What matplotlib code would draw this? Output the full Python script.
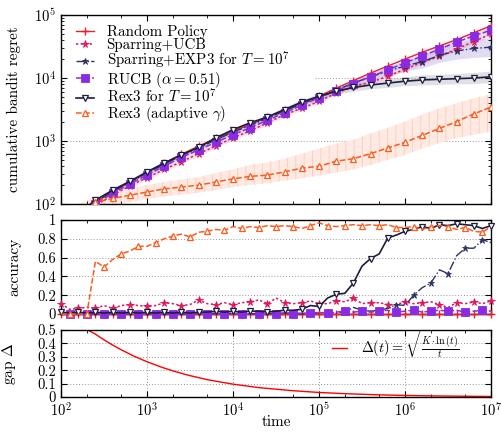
import numpy as np
import matplotlib
matplotlib.use("Agg")
import matplotlib.pyplot as plt
from matplotlib.ticker import LogLocator, NullFormatter

plt.rcParams['font.family'] = 'serif'
plt.rcParams['font.serif'] = ['cmr10', 'DejaVu Serif']
plt.rcParams['mathtext.fontset'] = 'cm'
plt.rcParams['axes.formatter.use_mathtext'] = True
plt.rcParams['font.size'] = 11
plt.rcParams['axes.unicode_minus'] = False
plt.rcParams['hatch.linewidth'] = 0.6

# ---------------- data ----------------
# regret panel: time grid (log10 t = 2.2 ... 7.0, step 0.2)
regret_time = [10 ** (2.2 + 0.2 * i) for i in range(25)]
regret_random = [66, 107, 155, 224, 316, 447, 617, 832, 1100, 1450, 1820, 2400, 3160,
                 3980, 5130, 6920, 9120, 12000, 15500, 20000, 25700, 32400, 40700, 52500, 67600]
regret_spar_ucb = [60, 95, 138, 195, 263, 355, 468, 631, 832, 1122, 1445, 1950, 2630,
                   3311, 4266, 5754, 7413, 8511, 10715, 13804, 17783, 22387, 28840, 38019, 50119]
regret_spar_exp3 = [68, 110, 158, 224, 309, 427, 589, 776, 1047, 1380, 1778, 2291, 3020,
                    3890, 5012, 6457, 8318, 10471, 12882, 15488, 18197, 22909, 26915, 29512, 30903]
regret_rucb = [63, 100, 148, 209, 288, 398, 550, 724, 955, 1259, 1622, 2138, 2818,
               3715, 4898, 6310, 8128, 10471, 13490, 17378, 22387, 28840, 37154, 46774, 57544]
regret_rex3 = [71, 115, 166, 229, 324, 447, 603, 794, 1122, 1514, 1950, 2399, 3162,
               4169, 5129, 6166, 7079, 7762, 8318, 8913, 9333, 9550, 9772, 10000, 10471]
regret_rex3_adapt = [79, 107, 123, 138, 155, 174, 186, 200, 224, 251, 275, 288, 324,
                     372, 398, 479, 525, 631, 776, 955, 1230, 1585, 2042, 2692, 3467]
rex3_adapt_hi = [100, 132, 155, 178, 200, 224, 245, 269, 309, 355, 417, 457, 525,
                 631, 759, 912, 1047, 1318, 1622, 2042, 2630, 3311, 3981, 4786, 5495]
rex3_adapt_lo = [63, 89, 98, 107, 120, 132, 141, 151, 166, 186, 200, 214, 234,
                 257, 282, 316, 355, 417, 501, 603, 759, 933, 1122, 1259, 1413]
# half-width of confidence bands (in decades)
spread_spar_ucb = [0.03] * 25
spread_spar_exp3 = [0.03] * 14 + [0.04, 0.05, 0.05, 0.06, 0.07, 0.08, 0.10, 0.11, 0.13, 0.14, 0.15]
spread_rucb = [0.04] * 15 + [0.04, 0.05, 0.05, 0.05, 0.05, 0.06, 0.06, 0.06, 0.06, 0.06]
spread_rex3 = [0.03] * 11 + [0.04, 0.04, 0.04, 0.05, 0.05, 0.06, 0.06, 0.07, 0.07, 0.08, 0.08, 0.08, 0.09, 0.09]

# accuracy panel: time grid (log10 t = 2.0 ... 7.0, step 0.1)
acc_time = [10 ** (2.0 + 0.1 * i) for i in range(51)]
acc_random = [0.0] * 51
acc_spar_ucb = [0.11, 0.05, 0.06, 0.07, 0.06, 0.09, 0.06, 0.09, 0.10, 0.09, 0.08, 0.09, 0.12,
                0.11, 0.09, 0.10, 0.15, 0.11, 0.10, 0.12, 0.10, 0.12, 0.13, 0.15, 0.11, 0.17,
                0.12, 0.11, 0.12, 0.14, 0.11, 0.11, 0.14, 0.13, 0.17, 0.11, 0.12, 0.12, 0.10,
                0.10, 0.13, 0.11, 0.12, 0.13, 0.10, 0.07, 0.12, 0.11, 0.13, 0.11, 0.14]
acc_spar_exp3 = [0.01, 0.0, 0.01, 0.0, 0.01, 0.0, 0.01, 0.0, 0.01, 0.01, 0.0, 0.01, 0.0,
                 0.01, 0.0, 0.01, 0.01, 0.0, 0.01, 0.0, 0.01, 0.01, 0.0, 0.01, 0.01, 0.0,
                 0.01, 0.01, 0.0, 0.01, 0.01, 0.02, 0.01, 0.02, 0.07, 0.04, 0.03, 0.04, 0.06,
                 0.10, 0.09, 0.20, 0.28, 0.33, 0.47, 0.43, 0.62, 0.70, 0.70, 0.79, 0.76]
acc_rucb = [0.0, 0.0, 0.0, 0.0, 0.0, 0.0, 0.0, 0.0, 0.0, 0.0, 0.0, 0.0, 0.0,
            0.0, 0.0, 0.0, 0.0, 0.0, 0.0, 0.0, 0.0, 0.0, 0.0, 0.0, 0.0, 0.005,
            0.01, 0.005, 0.01, 0.01, 0.015, 0.01, 0.02, 0.03, 0.02, 0.03, 0.02, 0.03, 0.04,
            0.02, 0.03, 0.04, 0.02, 0.03, 0.04, 0.03, 0.04, 0.02, 0.03, 0.04, 0.03]
acc_rex3 = [0.02, 0.01, 0.02, 0.01, 0.02, 0.01, 0.02, 0.01, 0.02, 0.01, 0.02, 0.01, 0.02,
            0.01, 0.02, 0.01, 0.02, 0.02, 0.03, 0.02, 0.03, 0.02, 0.03, 0.03, 0.02, 0.03,
            0.04, 0.04, 0.05, 0.09, 0.08, 0.17, 0.21, 0.22, 0.33, 0.51, 0.59, 0.64, 0.81,
            0.84, 0.88, 0.90, 0.93, 0.91, 0.95, 0.94, 0.96, 0.95, 0.94, 0.91, 0.94]
acc_rex3_adapt = [0.0, 0.0, 0.0, 0.0, 0.56, 0.50, 0.58, 0.64, 0.67, 0.72, 0.72, 0.76, 0.80,
                  0.83, 0.85, 0.82, 0.87, 0.88, 0.90, 0.89, 0.93, 0.91, 0.93, 0.92, 0.94, 0.93,
                  0.94, 0.93, 0.91, 0.94, 0.97, 0.94, 0.93, 0.94, 0.95, 0.94, 0.95, 0.94, 0.95,
                  0.92, 0.92, 0.93, 0.90, 0.93, 0.94, 0.93, 0.90, 0.92, 0.88, 0.87, 0.93]

# gap panel
gap_time = [100, 150, 205, 250, 300, 400, 500, 700, 1000, 1500, 2000, 3000, 5000, 7000,
            1e4, 2e4, 5e4, 1e5, 2e5, 5e5, 1e6, 2e6, 5e6, 1e7]
gap_delta = [0.5, 0.5, 0.5, 0.47, 0.436, 0.387, 0.353, 0.306, 0.263, 0.221, 0.195, 0.163,
             0.130, 0.113, 0.096, 0.070, 0.047, 0.034, 0.025, 0.0162, 0.0118, 0.0085,
             0.0056, 0.0040]

labels = ['Random Policy', 'Sparring+UCB', r'Sparring+EXP3 for $T = 10^7$',
          r'RUCB ($\alpha = 0.51$)', r'Rex3 for $T = 10^7$', r'Rex3 (adaptive $\gamma$)']

# ---------------- styles ----------------
c_random = '#e8202a'
c_ucb = '#e0155e'
c_exp3 = '#2c3264'
c_rucb = '#8a2be2'
c_rex3 = '#1b1e3c'
c_adapt = '#ff5a1a'

styles = [
    dict(color=c_random, marker='+', ms=6, mew=1.0, ls='-', lw=1.0),
    dict(color=c_ucb, marker='*', ms=5.5, mew=0.6, ls=(0, (1.5, 1.5)), lw=1.1),
    dict(color=c_exp3, marker='*', ms=5, mew=0.6, ls='-.', lw=1.0),
    dict(color=c_rucb, marker='s', ms=5.2, mew=0.6, ls='--', lw=1.1),
    dict(color=c_rex3, marker='v', ms=4.2, mew=0.9, mfc='white', ls='-', lw=1.2),
    dict(color=c_adapt, marker='^', ms=4.2, mew=0.9, mfc='white', ls='--', lw=1.1),
]
grid_style = dict(ls=(0, (1, 2)), color='#999999', lw=0.7)

fig = plt.figure(figsize=(5.01, 4.36), dpi=100)
L, W = 0.1218, 0.8583
ax1 = fig.add_axes([L, 0.532, W, 0.4335])
ax2 = fig.add_axes([L, 0.2798, W, 0.2156])
ax3 = fig.add_axes([L, 0.0894, W, 0.1537])

# ---------------- regret panel ----------------
rt = np.array(regret_time)
series = [regret_random, regret_spar_ucb, regret_spar_exp3, regret_rucb, regret_rex3, regret_rex3_adapt]
band_specs = [(regret_spar_ucb, spread_spar_ucb, '#f49ac0', 0.30),
              (regret_spar_exp3, spread_spar_exp3, '#a99bd8', 0.35),
              (regret_rucb, spread_rucb, '#c9a6f2', 0.35),
              (regret_rex3, spread_rex3, '#9a9aa6', 0.30)]
for vals, spr, col, a in band_specs:
    v = np.array(vals, float)
    s = 10 ** np.array(spr)
    ax1.fill_between(rt, v / s, v * s, color=col, alpha=a, lw=0, zorder=1)
ax1.fill_between(rt, rex3_adapt_lo, rex3_adapt_hi, facecolor='#feeae2', edgecolor='#fbcbbb',
                 hatch='||', lw=0, zorder=1)

for vals, st, lab in zip(series, styles, labels):
    ax1.plot(rt, vals, label=lab, zorder=3, **st)

ax1.set_xscale('log')
ax1.set_yscale('log')
ax1.set_xlim(1e2, 1e7)
ax1.set_ylim(1e2, 1e5)
ax1.set_ylabel('cumulative bandit regret')
# grid lines (the 10^4 one is hidden behind the legend on the left)
ax1.axhline(1e3, zorder=0.5, **grid_style)
ax1.axhline(1e4, xmin=0.59, zorder=0.5, **grid_style)
leg = ax1.legend(loc='upper left', bbox_to_anchor=(0.024, 0.97), frameon=False,
                 fontsize=10.8, handlelength=1.2, handletextpad=0.85, labelspacing=-0.11,
                 borderpad=0.3, borderaxespad=0.0, numpoints=1)

# ---------------- accuracy panel ----------------
at = np.array(acc_time)
acc_series = [acc_random, acc_spar_ucb, acc_spar_exp3, acc_rucb, acc_rex3, acc_rex3_adapt]
marks = [(0, 2), (0, 2), (1, 2), (1, 2), (0, 2), (1, 2)]
for vals, st, me in zip(acc_series, styles, marks):
    ax2.plot(at, vals, markevery=me, zorder=3, clip_on=False, **st)
ax2.set_xscale('log')
ax2.set_xlim(1e2, 1e7)
ax2.set_ylim(0, 1)
ax2.set_yticks([0, 0.2, 0.4, 0.6, 0.8, 1])
ax2.set_yticklabels(['0', '0.2', '0.4', '0.6', '0.8', '1'])
ax2.set_ylabel('accuracy')
ax2.grid(True, axis='y', which='major', **grid_style)

# ---------------- gap panel ----------------
ax3.plot(gap_time, gap_delta, color='#ff0000', lw=1.0,
         label=r'$\Delta(t) = \sqrt{\frac{K \cdot \ln{(t)}}{t}}$')
ax3.set_xscale('log')
ax3.set_xlim(1e2, 1e7)
ax3.set_ylim(0, 0.5)
ax3.set_yticks([0, 0.1, 0.2, 0.3, 0.4, 0.5])
ax3.set_yticklabels(['0', '0.1', '0.2', '0.3', '0.4', '0.5'])
ax3.set_ylabel(r'gap $\Delta$')
ax3.set_xlabel('time')
ax3.xaxis.set_label_coords(0.5, -0.38)
ax3.xaxis.label.set_va('center')
ax3.grid(True, which='major', **grid_style)
ax3.legend(loc='center left', bbox_to_anchor=(0.62, 0.79), frameon=False, fontsize=10.3,
           handlelength=1.07, handletextpad=0.93, borderpad=0.3, borderaxespad=0.0)

for ax in (ax1, ax2, ax3):
    ax.xaxis.set_major_locator(LogLocator(base=10, numticks=10))
    ax.xaxis.set_minor_locator(LogLocator(base=10, subs=(2.0, 5.0), numticks=20))
    ax.xaxis.set_minor_formatter(NullFormatter())
    ax.tick_params(which='both', direction='in', top=True, right=True, labelsize=10.5)
    ax.tick_params(which='major', length=4, width=0.8, pad=3.5)
    ax.tick_params(which='minor', length=2.5, width=0.6)
    for sp in ax.spines.values():
        sp.set_linewidth(1.0)
ax1.yaxis.set_major_locator(LogLocator(base=10, numticks=10))
ax1.yaxis.set_minor_locator(LogLocator(base=10, subs=np.arange(2, 10), numticks=20))
ax1.yaxis.set_minor_formatter(NullFormatter())
ax1.tick_params(labelbottom=False)
ax2.tick_params(labelbottom=False)

ax1.yaxis.set_label_coords(-0.093, 0.5)
ax2.yaxis.set_label_coords(-0.093, 0.5)
ax3.yaxis.set_label_coords(-0.1, 0.5)

fig.savefig('out.png', dpi=100)
